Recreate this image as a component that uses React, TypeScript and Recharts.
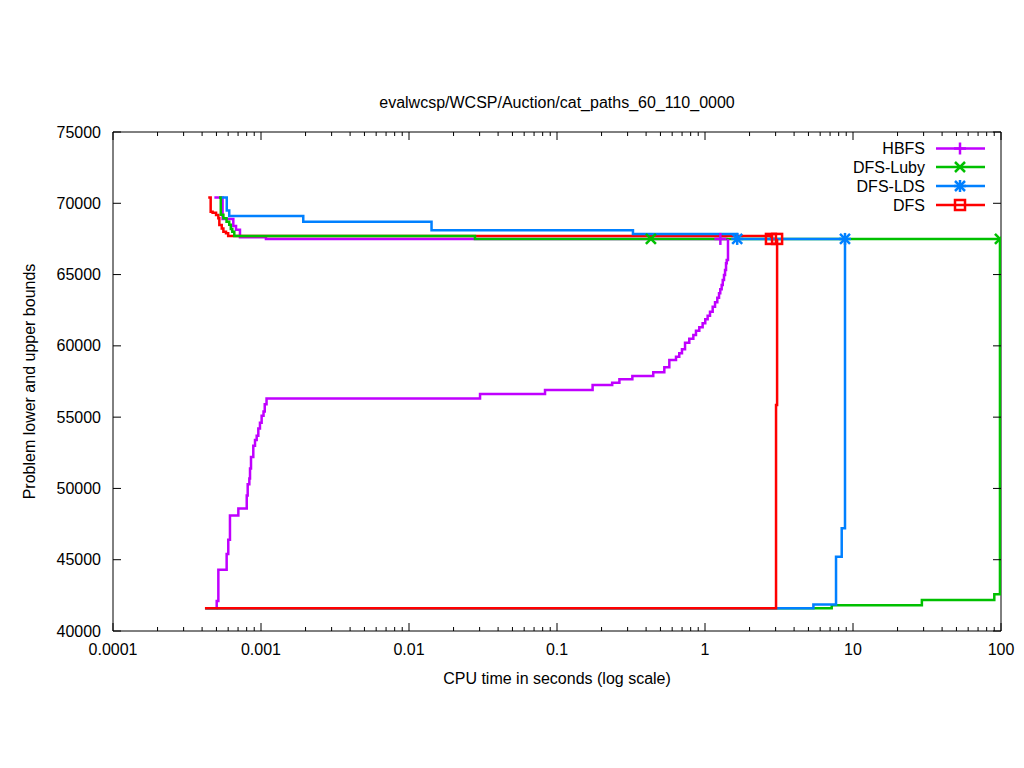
import React from 'react';
import { ComposedChart, Line, Scatter, XAxis, YAxis, ReferenceArea } from 'recharts';

const FONT = '"Liberation Sans", Arial, Helvetica, sans-serif';
const FS = 16;
const W = 1024;
const H = 768;
const PL = 113, PT = 132, PR = 1001, PB = 631;
const PW = PR - PL;
const PH = PB - PT;

const TITLE = 'evalwcsp/WCSP/Auction/cat_paths_60_110_0000';
const X_LABEL = 'CPU time in seconds (log scale)';
const Y_LABEL = 'Problem lower and upper bounds';

const xMajorTicks = [0.0001, 0.001, 0.01, 0.1, 1, 10, 100];
const xMajorLabels = ['0.0001', '0.001', '0.01', '0.1', '1', '10', '100'];
const xMinorMultipliers = [2, 3, 4, 5, 6, 7, 8, 9];
const yTicks = [40000, 45000, 50000, 55000, 60000, 65000, 70000, 75000];

const seriesNames = ['HBFS', 'DFS-Luby', 'DFS-LDS', 'DFS'];
const seriesColors = ['#c000ff', '#00c000', '#0080ff', '#ff0000'];
const seriesMarkers = ['plus', 'cross', 'star', 'square'];

// [time (s), bound]
const hbfsUpper: [number, number][] = [
  [0.000484, 70400], [0.00055, 68900], [0.00065, 68400], [0.000678, 68150],
  [0.000721, 67620], [0.00108, 67500], [1.43, 67500],
];
const hbfsLower: [number, number][] = [
  [0.0005, 41600], [0.000502, 42100], [0.000515, 44300], [0.000586, 45400],
  [0.000601, 46400], [0.000617, 48100], [0.000703, 48600], [0.000801, 49500],
  [0.000813, 50300], [0.000834, 50700], [0.000843, 51400], [0.000856, 52200],
  [0.000887, 53000], [0.000911, 53400], [0.000935, 53700], [0.000959, 54200],
  [0.000984, 54600], [0.00101, 55100], [0.00104, 55400], [0.00106, 55900],
  [0.00109, 56300], [0.0302, 56620], [0.083, 56900], [0.174, 57250],
  [0.236, 57420], [0.264, 57650], [0.323, 57890], [0.447, 58150],
  [0.531, 58500], [0.574, 59000], [0.637, 59240], [0.67, 59480],
  [0.699, 59760], [0.733, 60220], [0.783, 60500], [0.834, 60760],
  [0.869, 61060], [0.915, 61300], [0.964, 61580], [1.004, 61860],
  [1.042, 62120], [1.081, 62400], [1.127, 62750], [1.169, 63050],
  [1.211, 63380], [1.244, 63690], [1.268, 63970], [1.296, 64270],
  [1.318, 64620], [1.344, 64970], [1.366, 65320], [1.387, 65790],
  [1.402, 66020], [1.43, 67500],
];
const lubyUpper: [number, number][] = [
  [0.00052, 70400], [0.000535, 69200], [0.000557, 68950], [0.000585, 68700],
  [0.00061, 68500], [0.000625, 68200], [0.00064, 68000], [0.00066, 67700],
  [0.0279, 67500], [98.4, 67500],
];
const lubyLower: [number, number][] = [
  [0.00042, 41600], [7.18, 41800], [29.2, 42170], [90.1, 42570], [98.4, 67500],
];
const ldsUpper: [number, number][] = [
  [0.000543, 70400], [0.000587, 69500], [0.00061, 69100], [0.00193, 68700],
  [0.0142, 68100], [0.326, 67850], [1.65, 67500], [8.83, 67500],
];
const ldsLower: [number, number][] = [
  [0.00042, 41600], [5.4, 41850], [7.68, 45200], [8.39, 47200], [8.83, 67500],
];
const dfsUpper: [number, number][] = [
  [0.00044, 70400], [0.000457, 69400], [0.000471, 69340], [0.000497, 69180],
  [0.000515, 68950], [0.000523, 68480], [0.000543, 68240], [0.000557, 68000],
  [0.00058, 67890], [0.0006, 67700], [2.79, 67500], [3.07, 67500],
];
const dfsLower: [number, number][] = [
  [0.000418, 41600], [3.02, 55850], [3.07, 67500],
];

const hbfsMarks: [number, number][] = [[1.27, 67500]];
const lubyMarks: [number, number][] = [[0.431, 67500], [98.4, 67500]];
const ldsMarks: [number, number][] = [[1.65, 67500], [8.83, 67500]];
const dfsMarks: [number, number][] = [[2.79, 67500], [3.07, 67500]];

const pts = (a: [number, number][]) => a.map(([x, y]) => ({ x, y }));

const xMinorTicks: number[] = [];
xMajorTicks.slice(0, -1).forEach((d) => xMinorMultipliers.forEach((m) => xMinorTicks.push(+(d * m).toPrecision(3))));
const allXTicks = [...xMajorTicks, ...xMinorTicks].sort((a, b) => a - b);

function Marker({ kind, cx, cy, color }: { kind: string; cx: number; cy: number; color: string }) {
  const s = 6;
  const sw = 2.5;
  if (kind === 'plus') {
    return (
      <g stroke={color} strokeWidth={sw}>
        <line x1={cx - s} x2={cx + s} y1={cy} y2={cy} />
        <line x1={cx} x2={cx} y1={cy - s} y2={cy + s} />
      </g>
    );
  }
  if (kind === 'cross') {
    const d = 5;
    return (
      <g stroke={color} strokeWidth={sw}>
        <line x1={cx - d} x2={cx + d} y1={cy - d} y2={cy + d} />
        <line x1={cx - d} x2={cx + d} y1={cy + d} y2={cy - d} />
      </g>
    );
  }
  if (kind === 'star') {
    const d = 5;
    return (
      <g stroke={color} strokeWidth={sw}>
        <line x1={cx - s} x2={cx + s} y1={cy} y2={cy} />
        <line x1={cx} x2={cx} y1={cy - s} y2={cy + s} />
        <line x1={cx - d} x2={cx + d} y1={cy - d} y2={cy + d} />
        <line x1={cx - d} x2={cx + d} y1={cy + d} y2={cy - d} />
      </g>
    );
  }
  return <rect x={cx - 5} y={cy - 5} width={10} height={10} fill="none" stroke={color} strokeWidth={sw} />;
}

function XTick(props: any) {
  const { x, y, payload } = props;
  const v = payload.value;
  const idx = xMajorTicks.indexOf(v);
  const major = idx >= 0;
  const len = major ? 8 : 4;
  return (
    <g>
      <line x1={x} x2={x} y1={y} y2={y - len} stroke="#000" strokeWidth={1} />
      <line x1={x} x2={x} y1={y - PH} y2={y - PH + len} stroke="#000" strokeWidth={1} />
      {major && (
        <text x={x} y={y + 24} textAnchor="middle" fontFamily={FONT} fontSize={FS} fill="#000">
          {xMajorLabels[idx]}
        </text>
      )}
    </g>
  );
}

function YTick(props: any) {
  const { x, y, payload } = props;
  return (
    <g>
      <line x1={x} x2={x + 8} y1={y} y2={y} stroke="#000" strokeWidth={1} />
      <line x1={x + PW} x2={x + PW - 8} y1={y} y2={y} stroke="#000" strokeWidth={1} />
      <text x={x - 12} y={y + 5.5} textAnchor="end" fontFamily={FONT} fontSize={FS} fill="#000">
        {payload.value}
      </text>
    </g>
  );
}

const upperSets = [
  { data: hbfsUpper, c: 0 },
  { data: dfsUpper, c: 3 },
  { data: lubyUpper, c: 1 },
  { data: ldsUpper, c: 2 },
];
const lowerSets = [
  { data: hbfsLower, c: 0 },
  { data: lubyLower, c: 1 },
  { data: ldsLower, c: 2 },
  { data: dfsLower, c: 3 },
];
const markSets = [
  { data: hbfsMarks, c: 0 },
  { data: lubyMarks, c: 1 },
  { data: ldsMarks, c: 2 },
  { data: dfsMarks, c: 3 },
];

export default function App() {
  const legendRows = [148.5, 167, 186, 205];
  return (
    <div style={{ position: 'absolute', left: 0, top: 0, width: W, height: H, background: '#fff' }}>
      <ComposedChart
        width={W}
        height={H}
        margin={{ top: PT, left: PL - 60, right: W - PR, bottom: H - PB - 30 }}
      >
        <XAxis
          dataKey="x"
          type="number"
          scale="log"
          domain={[0.0001, 100]}
          allowDataOverflow
          ticks={allXTicks}
          interval={0}
          tick={<XTick />}
          tickLine={false}
          tickSize={0}
          tickMargin={0}
          axisLine={false}
          height={30}
        />
        <YAxis
          type="number"
          domain={[40000, 75000]}
          allowDataOverflow
          ticks={yTicks}
          interval={0}
          tick={<YTick />}
          tickLine={false}
          tickSize={0}
          tickMargin={0}
          axisLine={false}
          width={60}
        />
        <ReferenceArea x1={0.0001} x2={100} y1={40000} y2={75000} fill="none" stroke="#000" strokeWidth={1} ifOverflow="visible" />
        {upperSets.map((s, i) => (
          <Line
            key={'u' + i}
            data={pts(s.data)}
            dataKey="y"
            type="stepAfter"
            stroke={seriesColors[s.c]}
            strokeWidth={2.5}
            dot={false}
            activeDot={false}
            isAnimationActive={false}
            legendType="none"
          />
        ))}
        {lowerSets.map((s, i) => (
          <Line
            key={'l' + i}
            data={pts(s.data)}
            dataKey="y"
            type="stepAfter"
            stroke={seriesColors[s.c]}
            strokeWidth={2.5}
            dot={false}
            activeDot={false}
            isAnimationActive={false}
            legendType="none"
          />
        ))}
        {markSets.map((s, i) => (
          <Scatter
            key={'m' + i}
            data={pts(s.data)}
            dataKey="y"
            isAnimationActive={false}
            shape={(p: any) => <Marker kind={seriesMarkers[s.c]} cx={p.cx} cy={p.cy} color={seriesColors[s.c]} />}
          />
        ))}
      </ComposedChart>
      <svg width={W} height={H} style={{ position: 'absolute', left: 0, top: 0, pointerEvents: 'none' }}>
        <text x={(PL + PR) / 2} y={108} textAnchor="middle" fontFamily={FONT} fontSize={FS} fill="#000">
          {TITLE}
        </text>
        <text x={(PL + PR) / 2} y={684} textAnchor="middle" fontFamily={FONT} fontSize={FS} fill="#000">
          {X_LABEL}
        </text>
        <text
          x={0}
          y={0}
          transform={`translate(35, ${(PT + PB) / 2}) rotate(-90)`}
          textAnchor="middle"
          fontFamily={FONT}
          fontSize={FS}
          fill="#000"
        >
          {Y_LABEL}
        </text>
        {seriesNames.map((n, i) => (
          <g key={n}>
            <text x={925} y={legendRows[i] + 5.5} textAnchor="end" fontFamily={FONT} fontSize={FS} fill="#000">
              {n}
            </text>
            <line x1={936} x2={985} y1={legendRows[i]} y2={legendRows[i]} stroke={seriesColors[i]} strokeWidth={2.5} />
            <Marker kind={seriesMarkers[i]} cx={960} cy={legendRows[i]} color={seriesColors[i]} />
          </g>
        ))}
      </svg>
    </div>
  );
}
